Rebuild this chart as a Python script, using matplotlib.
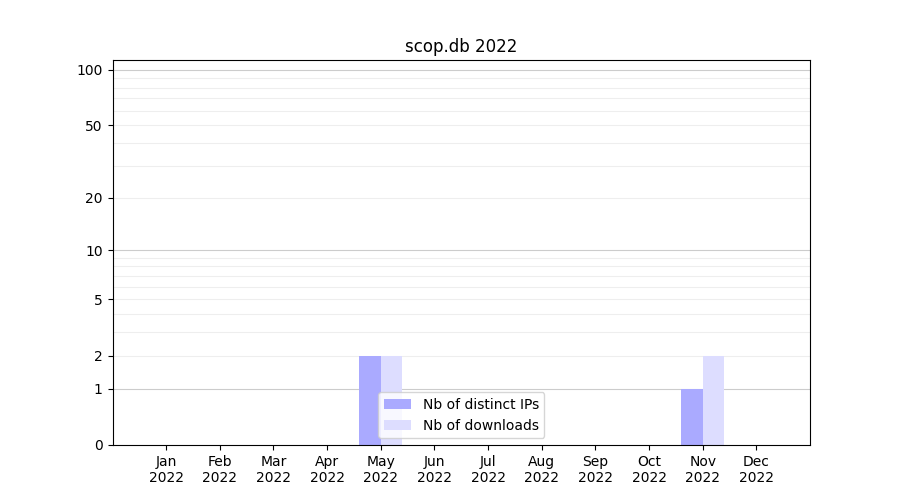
import numpy as np
import matplotlib
matplotlib.use("Agg")
import matplotlib.pyplot as plt

months = ["Jan", "Feb", "Mar", "Apr", "May", "Jun",
          "Jul", "Aug", "Sep", "Oct", "Nov", "Dec"]
year = "2022"
distinct_ips = [0, 0, 0, 0, 2, 0, 0, 0, 0, 0, 1, 0]
downloads = [0, 0, 0, 0, 2, 0, 0, 0, 0, 0, 2, 0]

major_ticks = [1, 10, 100]
minor_ticks = [2, 3, 4, 5, 6, 7, 8, 9, 20, 30, 40, 50, 60, 70, 80, 90]
label_ticks = [0, 1, 2, 5, 10, 20, 50, 100]


def fwd(v):
    return np.log10(1 + np.clip(v, 0, None))


def inv(v):
    return 10 ** v - 1


fig, ax = plt.subplots(figsize=(9, 5), dpi=100)
x = np.arange(1, len(months) + 1)
w = 0.4
ax.bar(x - w / 2, distinct_ips, width=w, color="#aaaaff", label="Nb of distinct IPs")
ax.bar(x + w / 2, downloads, width=w, color="#ddddff", label="Nb of downloads")

ax.set_yscale("function", functions=(fwd, inv))
ax.set_ylim(0, 113)
ax.set_xlim(0, 13)

for v in major_ticks:
    ax.axhline(v, color="#cccccc", lw=0.8, zorder=0)
for v in minor_ticks:
    ax.axhline(v, color="#eeeeee", lw=0.8, zorder=0)

ax.set_yticks(label_ticks)
ax.set_yticklabels([str(v) for v in label_ticks])
ax.yaxis.set_minor_locator(matplotlib.ticker.NullLocator())
ax.set_xticks(x)
ax.set_xticklabels([f"{m}\n{year}" for m in months])

ax.set_title("scop.db 2022")
ax.legend(loc="lower center")

fig.savefig("out.png")
